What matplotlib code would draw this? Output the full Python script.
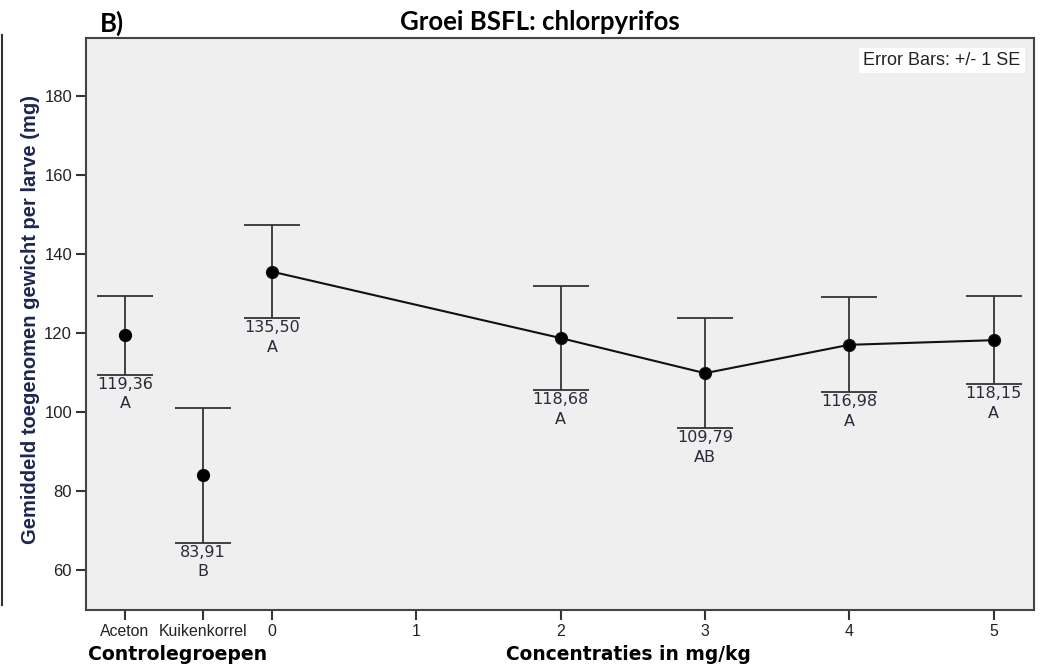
import matplotlib
matplotlib.use("Agg")
import matplotlib.pyplot as plt
from matplotlib.lines import Line2D

# Data
control_labels = ["Aceton", "Kuikenkorrel"]
control_pos = [-1.02, -0.48]
control_means = [119.36, 83.91]
control_se = [10.0, 17.1]
control_letters = ["A", "B"]

conc = [0, 2, 3, 4, 5]
conc_means = [135.50, 118.68, 109.79, 116.98, 118.15]
conc_se = [11.8, 13.2, 13.9, 12.0, 11.2]
conc_letters = ["A", "A", "AB", "A", "A"]

xtick_pos = [-1.02, -0.48, 0, 1, 2, 3, 4, 5]
xtick_labels = ["Aceton", "Kuikenkorrel", "0", "1", "2", "3", "4", "5"]
yticks = [60, 80, 100, 120, 140, 160, 180]

W, H = 1043, 669
fig = plt.figure(figsize=(W / 100, H / 100), dpi=100)
ax = fig.add_axes([86 / W, 1 - 610 / H, (1034 - 86) / W, (610 - 38) / H])
ax.set_facecolor("#efefef")
for s in ax.spines.values():
    s.set_color("#444444")
    s.set_linewidth(1.5)

ax.set_xlim(-1.29, 5.28)
ax.set_ylim(49.8, 194.7)

err_kw = dict(fmt="none", ecolor="#333333", elinewidth=1.3, capsize=20, capthick=1.3)
ax.errorbar(control_pos, control_means, yerr=control_se, **err_kw)
ax.errorbar(conc, conc_means, yerr=conc_se, **err_kw)
ax.plot(control_pos, control_means, "o", color="black", ms=8.5, zorder=5)
ax.plot(conc, conc_means, "-o", color="#111111", lw=1.5, ms=8.5, zorder=5,
        markerfacecolor="black")

txtcol = "#2a2a3a"
for x, m, se, let in list(zip(control_pos, control_means, control_se, control_letters)) + \
        list(zip(conc, conc_means, conc_se, conc_letters)):
    low = m - se
    ax.annotate(f"{m:.2f}".replace(".", ","), (x, low), xytext=(0, -1.5),
                textcoords="offset points", ha="center", va="top",
                fontsize=11.5, color=txtcol, family="DejaVu Sans")
    ax.annotate(let, (x, low), xytext=(0, -15.5),
                textcoords="offset points", ha="center", va="top",
                fontsize=11.5, color=txtcol, family="DejaVu Sans")

ax.set_xticks(xtick_pos)
ax.set_xticklabels(xtick_labels, family="Liberation Sans", fontsize=11.4, color="#222222")
ax.set_yticks(yticks)
ax.set_yticklabels([str(v) for v in yticks], family="Liberation Sans", fontsize=12,
                   color="#222222")
ax.tick_params(axis="both", length=7, width=1.5, color="#333333", pad=3)

ax.text(0.986, 0.975, "Error Bars: +/- 1 SE", transform=ax.transAxes, ha="right",
        va="top", fontsize=13, family="Liberation Sans", color="#222222",
        bbox=dict(facecolor="white", edgecolor="none", pad=3))

fig.text(31 / W, 1 - 320 / H, "Gemiddeld toegenomen gewicht per larve (mg)",
         rotation=90, ha="center", va="center", fontsize=14.5, fontweight="bold",
         family="Liberation Sans", color="#1c2557")

fig.text(540 / W, 1 - 22 / H, "Groei BSFL: chlorpyrifos", ha="center", va="center",
         fontsize=18.5, fontweight="bold", family="Lato")
fig.text(100 / W, 1 - 23 / H, "B)", ha="left", va="center",
         fontsize=18.5, fontweight="bold", family="Lato")

fig.text(88 / W, 1 - 655 / H, "Controlegroepen", ha="left", va="center",
         fontsize=13.6, fontweight="bold", family="DejaVu Sans")
fig.text(628 / W, 1 - 655 / H, "Concentraties in mg/kg", ha="center", va="center",
         fontsize=13.4, fontweight="bold", family="DejaVu Sans")

fig.add_artist(Line2D([1.5 / W, 1.5 / W], [1 - 35 / H, 1 - 605 / H], color="#333333",
                      lw=1.5, transform=fig.transFigure))

fig.savefig("out.png", dpi=100, facecolor="white")
